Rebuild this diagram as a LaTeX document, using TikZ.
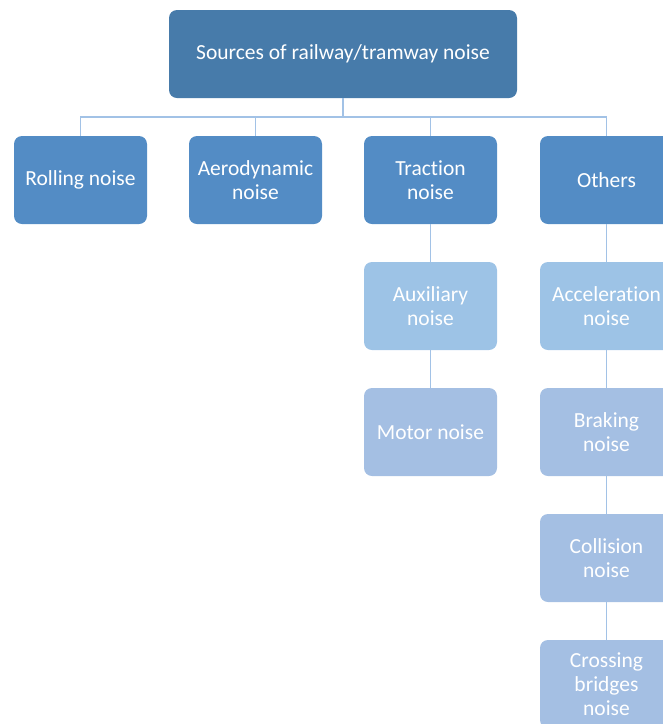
\documentclass[tikz,border=0pt]{standalone}
\usepackage{fontspec}
\setmainfont{Carlito}[Ligatures=NoCommon]
\definecolor{topc}{HTML}{477BAA}
\definecolor{midc}{HTML}{538CC5}
\definecolor{lightA}{HTML}{9DC3E6}
\definecolor{lightB}{HTML}{A4BFE3}
\definecolor{linec}{HTML}{A2C2E6}
\begin{document}
\begin{tikzpicture}[x=1pt,y=1pt,
  box/.style={rectangle,rounded corners=8pt,draw=none,text=white,align=center,
    minimum width=133pt,minimum height=88pt,inner sep=1pt,
    font=\fontsize{21.5}{24}\selectfont},
  topbox/.style={box,fill=topc,minimum width=348pt},
  midbox/.style={box,fill=midc},
  lboxA/.style={box,fill=lightA},
  lboxB/.style={box,fill=lightB},
  conn/.style={draw=linec,line width=1.3pt}]
\useasboundingbox (0,0) rectangle (663,-724);
\clip (0,0) rectangle (663,-724);
\node[topbox] (top) at (343,-54) {Sources of railway/tramway noise};
\node[midbox] (roll) at (80.5,-180) {Rolling noise};
\node[midbox] (aero) at (255.5,-180) {Aerodynamic\\noise};
\node[midbox] (trac) at (430.5,-180) {Traction\\noise};
\node[midbox] (oth) at (606.5,-180) {Others};
\node[lboxA] (aux) at (430.5,-306) {Auxiliary\\noise};
\node[lboxB] (mot) at (430.5,-432) {Motor noise};
\node[lboxA] (acc) at (606.5,-306) {Acceleration\\noise};
\node[lboxB] (brk) at (606.5,-432) {Braking\\noise};
\node[lboxB] (col) at (606.5,-558) {Collision\\noise};
\node[lboxB] (cro) at (606.5,-684) {Crossing\\bridges\\noise};
\coordinate (bus) at (343,-117);
\draw[conn] (top.south) -- (bus);
\foreach \n in {roll,aero,trac,oth}{\draw[conn] (bus) -| (\n.north);}
\draw[conn] (trac.south) -- (aux.north);
\draw[conn] (aux.south) -- (mot.north);
\draw[conn] (oth.south) -- (acc.north);
\draw[conn] (acc.south) -- (brk.north);
\draw[conn] (brk.south) -- (col.north);
\draw[conn] (col.south) -- (cro.north);
\end{tikzpicture}
\end{document}
